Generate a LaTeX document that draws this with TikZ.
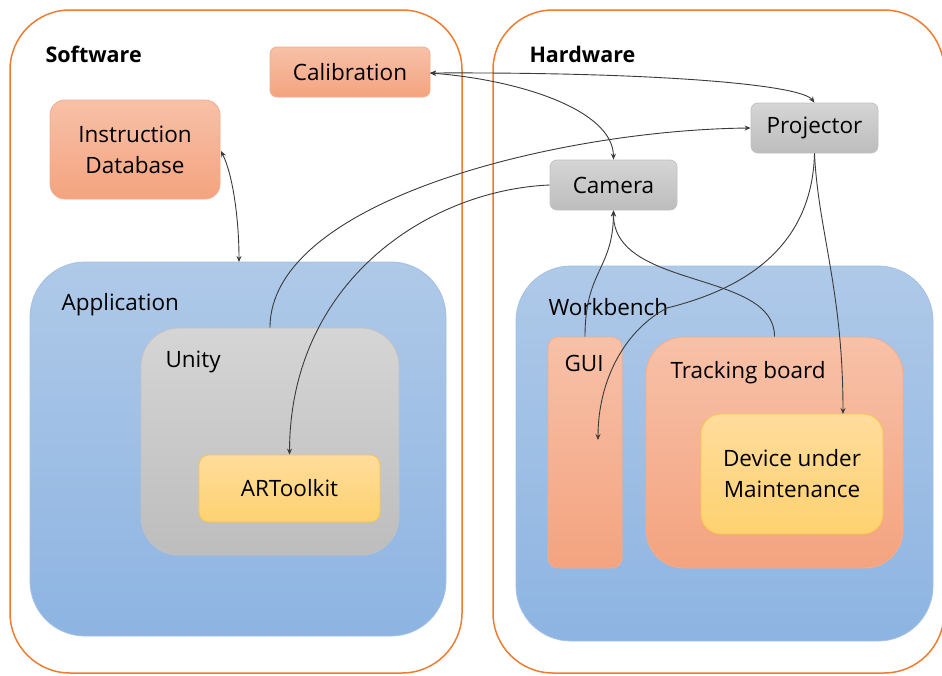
\documentclass[tikz,border=0pt]{standalone}
\usepackage{fontspec}
\setmainfont{Open Sans}
\usetikzlibrary{arrows.meta,calc}
\definecolor{orng}{HTML}{ED7D31}
\definecolor{salT}{HTML}{F7C1A8}
\definecolor{salB}{HTML}{F4A37F}
\definecolor{salD}{HTML}{F2AE8C}
\definecolor{bluT}{HTML}{AFC9E8}
\definecolor{bluB}{HTML}{8DB4E2}
\definecolor{bluD}{HTML}{A3C1E5}
\definecolor{gryT}{HTML}{D5D5D5}
\definecolor{gryB}{HTML}{BDBDBD}
\definecolor{gryD}{HTML}{C2C2C2}
\definecolor{ylwT}{HTML}{FFDC9C}
\definecolor{ylwB}{HTML}{FED270}
\definecolor{ylwD}{HTML}{F8C74E}
\definecolor{lineC}{HTML}{3A3A3A}
\begin{document}
\begin{tikzpicture}[x=1pt,y=-1pt,
  txt/.style={font=\fontsize{22.5}{31}\selectfont, text=black},
  hdr/.style={font=\bfseries\fontsize{21.5}{26}\selectfont, text=black},
  outer/.style={draw=orng, line width=1.5pt, fill=white, inner sep=0pt},
  salbox/.style={top color=salT, bottom color=salB, draw=salD, line width=0.8pt, inner sep=0pt, align=center},
  blubox/.style={top color=bluT, bottom color=bluB, draw=bluD, line width=0.8pt, inner sep=0pt},
  grybox/.style={top color=gryT, bottom color=gryB, draw=gryD, line width=0.8pt, inner sep=0pt, align=center},
  ylwbox/.style={top color=ylwT, bottom color=ylwB, draw=ylwD, line width=0.8pt, inner sep=0pt, align=center},
  conn/.style={draw=lineC, line width=0.9pt},
  tip/.tip={Stealth[length=6pt,width=5pt]}
]
\useasboundingbox (0,0) rectangle (942,675);

% outer containers
\node[outer, rounded corners=60pt, minimum width=452pt, minimum height=663pt] (sw) at (236,341.5) {};
\node[outer, rounded corners=60pt, minimum width=451pt, minimum height=663pt] (hw) at (718.5,341.5) {};
\node[hdr, anchor=base west] (swl) at (42,62) {Software};
\node[hdr, anchor=base west] (hwl) at (526,62) {Hardware};

% software side
\node[salbox, txt, rounded corners=7pt, minimum width=160pt, minimum height=50pt] (cal) at (350,72) {Calibration};
\node[salbox, txt, rounded corners=15pt, minimum width=170pt, minimum height=99pt] (idb) at (135,149.5) {Instruction\\Database};
\node[blubox, rounded corners=55pt, minimum width=416pt, minimum height=374pt] (app) at (238,449) {};
\node[txt, anchor=base west] (appl) at (58,310) {Application};
\node[grybox, rounded corners=38pt, minimum width=258pt, minimum height=227pt] (uni) at (270,441.5) {};
\node[txt, anchor=base west] (unil) at (162,367) {Unity};
\node[ylwbox, txt, rounded corners=10pt, minimum width=181pt, minimum height=67pt] (art) at (289.5,488.5) {ARToolkit};

% hardware side
\node[grybox, txt, rounded corners=7pt, minimum width=127pt, minimum height=50pt] (cam) at (613.5,185) {Camera};
\node[grybox, txt, rounded corners=7pt, minimum width=127pt, minimum height=50pt] (proj) at (814.5,128) {Projector};
\node[blubox, rounded corners=55pt, minimum width=417pt, minimum height=375pt] (wb) at (724.5,453.5) {};
\node[txt, anchor=base west] (wbl) at (545,315) {Workbench};
\node[salbox, rounded corners=10pt, minimum width=74pt, minimum height=231pt] (gui) at (585,452.5) {};
\node[txt, anchor=base west] (guil) at (561,371) {GUI};
\node[salbox, rounded corners=38pt, minimum width=257pt, minimum height=231pt] (trk) at (774.5,452.5) {};
\node[txt, anchor=base west] (trkl) at (667,378) {Tracking board};
\node[ylwbox, txt, rounded corners=20pt, minimum width=182pt, minimum height=120pt] (dev) at (792,474) {Device under\\Maintenance};

\coordinate (guiT) at (598,440);
\coordinate (devT) at (843,414);
\coordinate (appT) at (239,262);
\coordinate (calE) at (430,73);
\coordinate (idbE) at (221,151);

% connectors
\draw[conn, tip-tip] (calE) .. controls (650,72) and (800,84) .. (proj.north);
\draw[conn, tip-tip] (calE) .. controls (520,80) and (613,110) .. (cam.north);
\draw[conn, tip-tip] (idbE) .. controls (233,175) and (239,220) .. (appT);
\draw[conn, -tip] (uni.north) .. controls (270,200) and (560,130) .. (proj.west);
\draw[conn, -tip] (cam.west) .. controls (430,190) and (290,280) .. (art.north);
\draw[conn, -tip] (gui.north) .. controls (585,270) and (613,270) .. (cam.south);
\draw[conn, -tip] (trk.north) .. controls (775,270) and (613,290) .. (cam.south);
\draw[conn, -tip] (proj.south) .. controls (812,250) and (740,290) .. (667,308) .. controls (625,330) and (598,380) .. (guiT);
\draw[conn, -tip] (proj.south) .. controls (818,230) and (843,290) .. (devT);
\end{tikzpicture}
\end{document}
